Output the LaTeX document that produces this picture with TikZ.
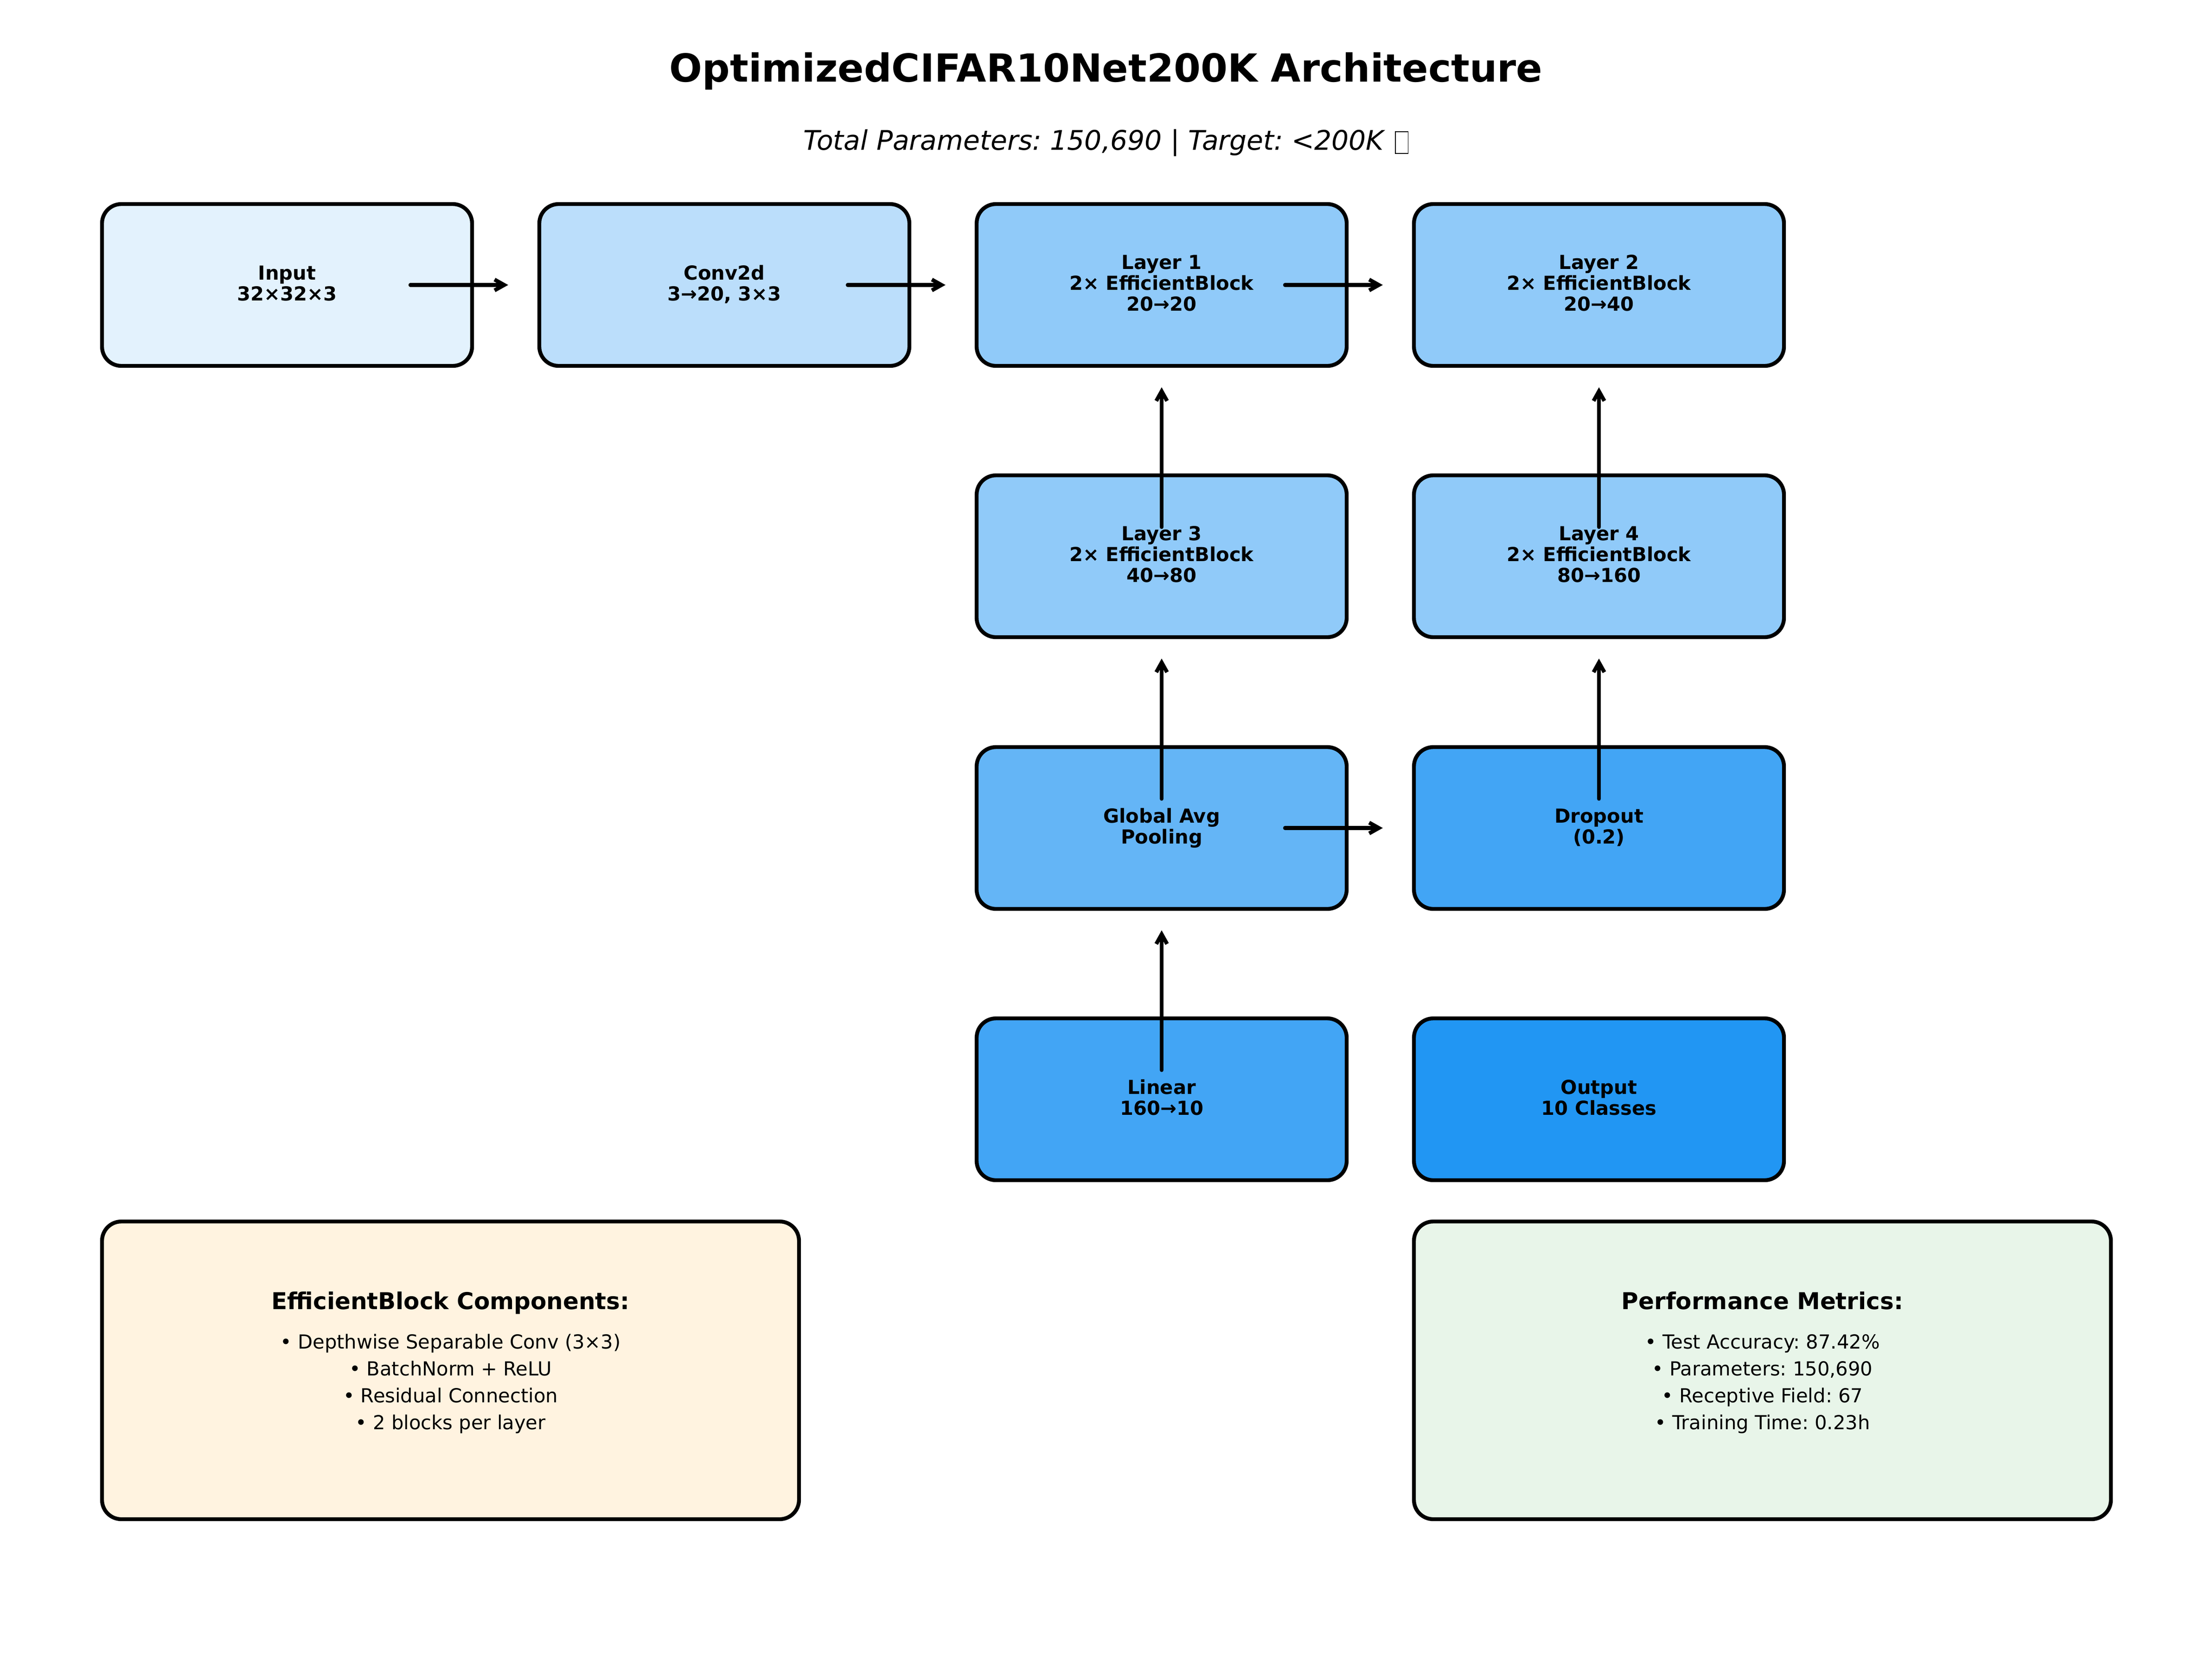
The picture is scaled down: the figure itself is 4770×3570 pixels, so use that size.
\documentclass[tikz,border=0pt]{standalone}
\usepackage{fontspec}
\setmainfont{DejaVu Sans}
\usetikzlibrary{arrows.meta,calc}
\frenchspacing
\definecolor{cInput}{HTML}{E3F2FD}
\definecolor{cConv}{HTML}{BBDEFB}
\definecolor{cLayer}{HTML}{90CAF9}
\definecolor{cGap}{HTML}{64B5F6}
\definecolor{cDrop}{HTML}{42A5F5}
\definecolor{cOut}{HTML}{2196F3}
\definecolor{cComp}{HTML}{FFF3E0}
\definecolor{cPerf}{HTML}{E8F5E9}
\newcommand\bl{\rule[-2.76pt]{0pt}{10.8pt}}
\newcommand\il{\rule[-4.42pt]{0pt}{13.92pt}}
\newcommand\tofubox{\kern1.3pt\raisebox{-1.6pt}{\fboxsep=0pt\fboxrule=0.45pt\fbox{\rule{0pt}{10.9pt}\hspace{6.1pt}}}}
\begin{document}
\frenchspacing
\begin{tikzpicture}[x=0.24pt,y=-0.24pt,
  blk/.style={draw=black, line width=2pt, rounded corners=10pt,
    minimum width=191.52pt, minimum height=83.76pt, inner sep=0pt,
    align=center, font=\frenchspacing\bfseries\fontsize{10}{10.8}\selectfont},
  note/.style={draw=black, line width=2pt, rounded corners=10pt,
    minimum width=360.72pt, minimum height=154.08pt, inner sep=0pt},
  arr/.style={-{Straight Barb[length=5pt,width=5.6pt]}, line width=2pt,
    line cap=round, line join=round},
  head/.style={anchor=base, inner sep=0pt, font=\frenchspacing\bfseries\fontsize{12}{14}\selectfont},
  items/.style={anchor=north, inner sep=0pt, align=center, font=\frenchspacing\fontsize{10}{13.92}\selectfont}]
\useasboundingbox (0,0) rectangle (4770,3570);

% title
\node[anchor=base, inner sep=0pt, font=\bfseries\fontsize{20}{24}\selectfont] (title) at (2385,176) {OptimizedCIFAR10Net200K Architecture};
\node[anchor=base, inner sep=0pt, font=\frenchspacing\itshape\fontsize{14}{16.8}\selectfont] (sub) at (2385,323.5) {Total Parameters: 150,690 | Target: <200K \tofubox};

% row 1
\node[blk, fill=cInput] (input) at (619,614.5) {\bl Input\\\bl 32×32×3};
\node[blk, fill=cConv] (conv) at (1562,614.5) {\bl Conv2d\\\bl 3→20, 3×3};
\node[blk, fill=cLayer] (l1) at (2505,614.5) {\bl Layer 1\\\bl 2× EfficientBlock\\\bl 20→20};
\node[blk, fill=cLayer] (l2) at (3448,614.5) {\bl Layer 2\\\bl 2× EfficientBlock\\\bl 20→40};
% row 2
\node[blk, fill=cLayer] (l3) at (2505,1199.5) {\bl Layer 3\\\bl 2× EfficientBlock\\\bl 40→80};
\node[blk, fill=cLayer] (l4) at (3448,1199.5) {\bl Layer 4\\\bl 2× EfficientBlock\\\bl 80→160};
% row 3
\node[blk, fill=cGap] (gap) at (2505,1785.5) {\bl Global Avg\\\bl Pooling};
\node[blk, fill=cDrop] (drop) at (3448,1785.5) {\bl Dropout\\\bl (0.2)};
% row 4
\node[blk, fill=cDrop] (lin) at (2505,2370.5) {\bl Linear\\\bl 160→10};
\node[blk, fill=cOut] (out) at (3448,2370.5) {\bl Output\\\bl 10 Classes};

% arrows
\draw[arr] ($(input.center)+(266,0)$) -- ($(conv.west)+(-63,0)$);
\draw[arr] ($(conv.center)+(266,0)$) -- ($(l1.west)+(-63,0)$);
\draw[arr] ($(l1.center)+(266,0)$) -- ($(l2.west)+(-63,0)$);
\draw[arr] ($(gap.center)+(266,0)$) -- ($(drop.west)+(-63,0)$);
\draw[arr] ($(l3.center)+(0,-63)$) -- ($(l1.south)+(0,42)$);
\draw[arr] ($(l4.center)+(0,-63)$) -- ($(l2.south)+(0,42)$);
\draw[arr] ($(gap.center)+(0,-63)$) -- ($(l3.south)+(0,42)$);
\draw[arr] ($(drop.center)+(0,-63)$) -- ($(l4.south)+(0,42)$);
\draw[arr] ($(lin.center)+(0,-63)$) -- ($(gap.south)+(0,42)$);

% notes
\node[note, fill=cComp] (comp) at (971.5,2955) {};
\node[head] (comph) at (971.5,2823) {EfficientBlock Components:};
\node[items] (compl) at (971.5,2868.4) {\il • Depthwise Separable Conv (3×3)\\\il • BatchNorm + ReLU\\\il • Residual Connection\\\il • 2 blocks per layer};

\node[note, fill=cPerf] (perf) at (3800.5,2955) {};
\node[head] (perfh) at (3800.5,2823) {Performance Metrics:};
\node[items] (perfl) at (3800.5,2868.4) {\il • Test Accuracy: 87.42\%\\\il • Parameters: 150,690\\\il • Receptive Field: 67\\\il • Training Time: 0.23h};
\end{tikzpicture}
\end{document}
